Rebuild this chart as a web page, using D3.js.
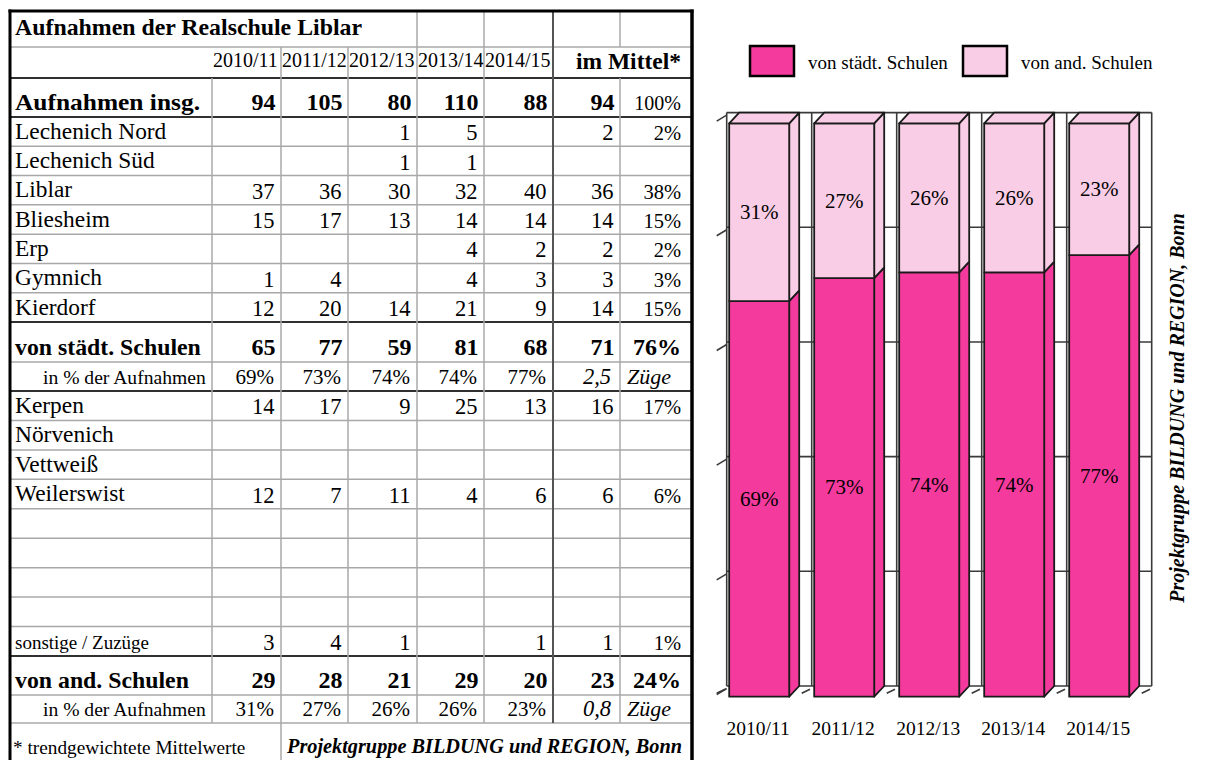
<!DOCTYPE html>
<html><head><meta charset="utf-8">
<script src="https://cdn.jsdelivr.net/npm/d3@7"></script>
<style>
body{margin:0;background:#fff}
svg{display:block}
</style>
</head><body>
<svg id="c" width="1212" height="760"></svg>
<script>
// ---------------- DATA ----------------
const title = "Aufnahmen der Realschule Liblar";
const years = ["2010/11","2011/12","2012/13","2013/14","2014/15"];

const totalLabel = "Aufnahmen insg.";
const totalValues = [94,105,80,110,88];
const totalMean = 94;
const totalMeanPct = "100%";

const ownSchools = ["Lechenich Nord","Lechenich Süd","Liblar","Bliesheim","Erp","Gymnich","Kierdorf"];
const ownValues = [
  [null,null,1,5,null],
  [null,null,1,1,null],
  [37,36,30,32,40],
  [15,17,13,14,14],
  [null,null,null,4,2],
  [1,4,null,4,3],
  [12,20,14,21,9]
];
const ownMean = [2,null,36,14,2,3,14];
const ownMeanPct = ["2%","","38%","15%","2%","3%","15%"];

const staedtLabel = "von städt. Schulen";
const staedtValues = [65,77,59,81,68];
const staedtMean = 71;
const staedtMeanPct = "76%";
const staedtShare = [69,73,74,74,77];
const staedtZuege = "2,5";

const otherSchools = ["Kerpen","Nörvenich","Vettweiß","Weilerswist","","","","","sonstige / Zuzüge"];
const otherValues = [
  [14,17,9,25,13],
  [null,null,null,null,null],
  [null,null,null,null,null],
  [12,7,11,4,6],
  [null,null,null,null,null],
  [null,null,null,null,null],
  [null,null,null,null,null],
  [null,null,null,null,null],
  [3,4,1,null,1]
];
const otherMean = [16,null,null,6,null,null,null,null,1];
const otherMeanPct = ["17%","","","6%","","","","","1%"];

const andLabel = "von and. Schulen";
const andValues = [29,28,21,29,20];
const andMean = 23;
const andMeanPct = "24%";
const andShare = [31,27,26,26,23];
const andZuege = "0,8";

const shareLabel = "in % der Aufnahmen";
const meanHeader = "im Mittel*";
const zuegeLabel = "Züge";
const footnote = "* trendgewichtete Mittelwerte";
const credit = "Projektgruppe BILDUNG und REGION, Bonn";
const legendLabels = ["von städt. Schulen","von and. Schulen"];

// ---------------- SETUP ----------------
const FONT = "'Liberation Serif', 'Times New Roman', Times, serif";
const svg = d3.select("#c").attr("font-family", FONT);
const C_DARK = "#f53a9d", C_LIGHT = "#facde6";
const GRAY = "#a8a8a8", DARK = "#303030";

const colX = [10,212,281,348,417,484,553,620,691];

const rows = [];
rows.push({type:"title", h:37});
rows.push({type:"years", h:31, line:"dark"});
rows.push({type:"bold", label:totalLabel, vals:totalValues, mean:totalMean, pct:totalMeanPct, pctBold:false, h:39, line:"dark", len:185});
ownSchools.forEach((s,i)=>rows.push({type:"reg", label:s, vals:ownValues[i], mean:ownMean[i], pct:ownMeanPct[i], h:205/7,
  line: i===ownSchools.length-1 ? "dark" : "gray"}));
rows.push({type:"bold", label:staedtLabel, vals:staedtValues, mean:staedtMean, pct:staedtMeanPct, pctBold:true, h:40});
rows.push({type:"share", vals:staedtShare, mean:staedtZuege, h:29, line:"dark"});
otherSchools.forEach((s,i)=>rows.push({type: i===otherSchools.length-1 ? "small" : "reg", label:s, vals:otherValues[i], mean:otherMean[i], pct:otherMeanPct[i], h:265/9,
  line: i===otherSchools.length-1 ? "dark" : "gray"}));
rows.push({type:"bold", label:andLabel, vals:andValues, mean:andMean, pct:andMeanPct, pctBold:true, h:39});
rows.push({type:"share", vals:andShare, mean:andZuege, h:28});
rows.push({type:"footer", h:37});

let yy = 10;
rows.forEach(r=>{ r.y0 = yy; yy += r.h; r.y1 = yy; });

const tbl = svg.append("g");
const lines = tbl.append("g");
const texts = tbl.append("g");

rows.forEach(r=>{
  if (r.type==="footer") return;
  const dark = r.line==="dark";
  lines.append("line").attr("x1",10).attr("x2",691).attr("y1",r.y1).attr("y2",r.y1)
    .attr("stroke", dark?DARK:GRAY).attr("stroke-width", dark?2:1.5);
});
const yTitleBot = rows[0].y1, yYearBot = rows[1].y1, yFootTop = rows[rows.length-1].y0;
const vsegs = [
  [colX[1], yYearBot, yFootTop, GRAY],
  [colX[2], yTitleBot, 760, GRAY],
  [colX[3], yTitleBot, yFootTop, GRAY],
  [colX[4], 10, yFootTop, GRAY],
  [colX[5], 10, yFootTop, GRAY],
  [colX[6], 10, yFootTop, "#555"],
  [colX[7], 10, yTitleBot, GRAY],
  [colX[7], yYearBot, yFootTop, GRAY]
];
vsegs.forEach(s=>lines.append("line").attr("x1",s[0]).attr("x2",s[0]).attr("y1",s[1]).attr("y2",s[2])
  .attr("stroke",s[3]).attr("stroke-width",s[3]===GRAY?1.5:2));
lines.append("line").attr("x1",8.5).attr("x2",693.5).attr("y1",11).attr("y2",11).attr("stroke","#000").attr("stroke-width",3);
lines.append("line").attr("x1",10).attr("x2",10).attr("y1",9.5).attr("y2",760).attr("stroke","#000").attr("stroke-width",3);
lines.append("line").attr("x1",692).attr("x2",692).attr("y1",9.5).attr("y2",760).attr("stroke","#000").attr("stroke-width",3.5);

function txt(x,y,s,opt={}){
  const t = texts.append("text").attr("x",x).attr("y",y).text(s)
    .attr("font-family", FONT)
    .attr("font-size",opt.size||23.4)
    .attr("text-anchor",opt.anchor||"start");
  if(opt.bold) t.attr("font-weight","bold");
  if(opt.italic) t.attr("font-style","italic");
  if(opt.len) t.attr("textLength",opt.len).attr("lengthAdjust","spacingAndGlyphs");
  return t;
}
const fmt = v => (v===null||v===undefined) ? "" : String(v);

rows.forEach(r=>{
  const base = r.y1;
  if (r.type==="title"){
    txt(15, r.y1-12, title, {size:23.8, bold:true, len:347});
  } else if (r.type==="years"){
    years.forEach((yv,i)=>txt(colX[i+1]+1, base-11, yv, {size:20}));
    txt(681, base-9, meanHeader, {size:23.5, bold:true, anchor:"end"});
  } else if (r.type==="bold"){
    txt(15, base-7, r.label, {size:23.8, bold:true, len:r.len});
    r.vals.forEach((v,i)=>txt(colX[i+2]-5.5, base-7, fmt(v), {size:24, bold:true, anchor:"end"}));
    txt(colX[7]-5.5, base-7, fmt(r.mean), {size:24, bold:true, anchor:"end"});
    txt(681, base-7, r.pct, {size: r.pctBold?24:20, bold:r.pctBold, anchor:"end"});
  } else if (r.type==="reg" || r.type==="small"){
    txt(15, base-7.5, r.label, {size: r.type==="small"?19:23.4});
    r.vals.forEach((v,i)=>txt(colX[i+2]-6.5, base-6, fmt(v), {size:22.5, anchor:"end"}));
    txt(colX[7]-6.5, base-6, fmt(r.mean), {size:22.5, anchor:"end"});
    txt(681, base-6, r.pct, {size:20.5, anchor:"end"});
  } else if (r.type==="share"){
    txt(43, base-7.5, shareLabel, {size:19.6});
    r.vals.forEach((v,i)=>txt(colX[i+2]-7, base-7.5, v+"%", {size:21, anchor:"end"}));
    txt(colX[7]-9, base-7, r.mean, {size:22.5, italic:true, anchor:"end"});
    txt(colX[7]+7, base-7, zuegeLabel, {size:22, italic:true});
  } else if (r.type==="footer"){
    txt(13, base-6, footnote, {size:19.3});
    txt(colX[2]+6, base-7, credit, {size:20.3, bold:true, italic:true});
  }
});

// ---------------- CHART ----------------
const ch = svg.append("g");
const DX = 10, DY = -10.7;
const y = d3.scaleLinear().domain([0,100]).range([696.7,123.3]);
const xCat = d3.scaleBand().domain(years).range([716.7,1141.7]);
const xBar = d3.scaleBand().domain(years).range([716.7,1141.7]).paddingInner(25/85).paddingOuter(12.5/85);
const grid = [0,20,40,60,80,100];
const x0 = xCat.range()[0], x1 = xCat.range()[1];

const wall = ch.append("g").attr("stroke","#3a3a3a").attr("stroke-width",1.6);
grid.forEach(g=>{
  wall.append("line").attr("x1",x0+DX).attr("x2",x1+DX).attr("y1",y(g)+DY).attr("y2",y(g)+DY);
  wall.append("line").attr("x1",x0).attr("y1",y(g)+DY+8.5).attr("x2",x0+DX).attr("y2",y(g)+DY+2.5);
});
const bounds = years.map(d=>xCat(d)).concat([x1]);
bounds.forEach(b=>{
  wall.append("line").attr("x1",b+DX).attr("x2",b+DX).attr("y1",y(0)+DY).attr("y2",y(100)+DY);
  wall.append("line").attr("x1",b).attr("y1",y(0)-3.4).attr("x2",b+DX-1.7).attr("y2",y(0)-7.4);
});

const segs = [];
years.forEach((yr,i)=>{
  segs.push({yr, lo:0, hi:staedtShare[i], v:staedtShare[i], c:C_DARK});
  segs.push({yr, lo:staedtShare[i], hi:staedtShare[i]+andShare[i], v:andShare[i], c:C_LIGHT, top:true});
});
const bw = xBar.bandwidth();
const barG = ch.append("g").attr("stroke","#1a1a1a").attr("stroke-width",1.8).attr("stroke-linejoin","round");
segs.forEach(s=>{
  const xl = xBar(s.yr), xr = xl + bw, yt = y(s.hi), yb = y(s.lo);
  barG.append("polygon").attr("fill",s.c)
    .attr("points",[[xr,yb],[xr,yt],[xr+DX,yt+DY],[xr+DX,yb+DY]].map(p=>p.join(",")).join(" "));
  barG.append("rect").attr("x",xl).attr("y",yt).attr("width",bw).attr("height",yb-yt).attr("fill",s.c);
  if (s.top){
    barG.append("polygon").attr("fill",s.c)
      .attr("points",[[xl,yt],[xl+DX,yt+DY],[xr+DX,yt+DY],[xr,yt]].map(p=>p.join(",")).join(" "));
  }
});
segs.forEach(s=>{
  ch.append("text").attr("font-family",FONT).attr("x",xBar(s.yr)+bw/2).attr("y",(y(s.lo)+y(s.hi))/2+7)
    .attr("text-anchor","middle").attr("font-size",21).text(s.v+"%");
});
years.forEach(yr=>{
  ch.append("text").attr("font-family",FONT).attr("x",xBar(yr)+bw/2-1).attr("y",735).attr("text-anchor","middle")
    .attr("font-size",19.5).text(yr);
});
const legX = [750, 963];
legendLabels.forEach((l,i)=>{
  ch.append("rect").attr("x",legX[i]).attr("y",46).attr("width",44).attr("height",30)
    .attr("fill", i===0?C_DARK:C_LIGHT).attr("stroke","#000").attr("stroke-width",2.5);
  ch.append("text").attr("font-family",FONT).attr("x",legX[i]+58).attr("y",69).attr("font-size",19).text(l);
});
ch.append("text").attr("font-family",FONT).attr("transform","translate(1184,408) rotate(-90)").attr("text-anchor","middle")
  .attr("font-size",20).attr("font-weight","bold").attr("font-style","italic").text(credit);
</script>
</body></html>
